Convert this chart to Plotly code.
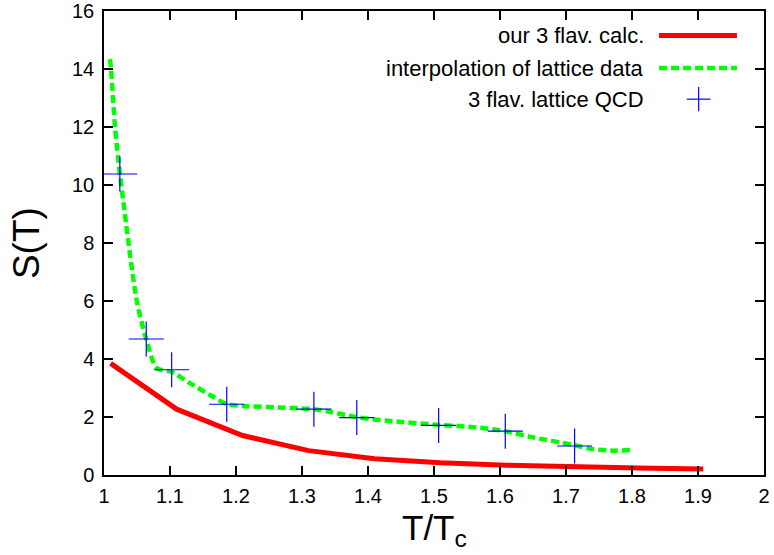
import plotly.graph_objects as go

# ---- data ----
calc_x = [1.01, 1.11, 1.21, 1.31, 1.41, 1.51, 1.61, 1.71, 1.81, 1.908]
calc_y = [3.85, 2.27, 1.36, 0.84, 0.56, 0.42, 0.34, 0.28, 0.24, 0.21]

interp_x = [1.009, 1.0106, 1.0167, 1.024, 1.029, 1.0495, 1.064, 1.08, 1.1025, 1.13,
            1.165, 1.185, 1.21, 1.262, 1.318, 1.342, 1.383, 1.43, 1.507, 1.57,
            1.608, 1.645, 1.712, 1.741, 1.772, 1.797]
interp_y = [14.34, 14.0, 12.0, 10.4, 9.48, 6.03, 4.69, 3.69, 3.55, 3.17,
            2.70, 2.45, 2.38, 2.33, 2.27, 2.18, 1.99, 1.87, 1.73, 1.63,
            1.51, 1.32, 1.03, 0.89, 0.84, 0.86]

lat_x = [1.024, 1.064, 1.1025, 1.186, 1.318, 1.383, 1.507, 1.608, 1.713]
lat_y = [10.38, 4.69, 3.63, 2.44, 2.27, 1.98, 1.71, 1.51, 1.00]

x_ticks = [1.0, 1.1, 1.2, 1.3, 1.4, 1.5, 1.6, 1.7, 1.8, 1.9, 2.0]
x_labels = ["1", "1.1", "1.2", "1.3", "1.4", "1.5", "1.6", "1.7", "1.8", "1.9", "2"]
y_ticks = [0, 2, 4, 6, 8, 10, 12, 14, 16]

legend_names = ["our 3 flav. calc.", "interpolation of lattice data", "3 flav. lattice QCD"]
x_title = "T/T<sub>c</sub>"
y_title = "S(T)"

RED = "#ff0000"
GREEN = "#00ff00"
BLUE = "#0000ff"
FONT = "Liberation Sans, Arial, sans-serif"

fig = go.Figure()
fig.add_trace(go.Scatter(x=calc_x, y=calc_y, mode="lines",
                         line=dict(color=RED, width=5), showlegend=False))
fig.add_trace(go.Scatter(x=interp_x, y=interp_y, mode="lines",
                         line=dict(color=GREEN, width=4.5, dash="8px,4px", shape="spline", smoothing=0.8),
                         showlegend=False))
fig.add_trace(go.Scatter(x=lat_x, y=lat_y, mode="markers",
                         marker=dict(symbol="cross-thin", size=25, line=dict(color=BLUE, width=1.2)),
                         showlegend=False))

# ---- custom legend (text left of sample, gnuplot style) ----
row_y = [0.947, 0.877, 0.810]
text_x = 0.821
for name, yy in zip(legend_names, row_y):
    fig.add_annotation(x=text_x, y=yy, xref="paper", yref="paper", text=name,
                       showarrow=False, xanchor="right", yanchor="middle",
                       font=dict(family=FONT, size=22, color="black"))
fig.add_shape(type="line", xref="paper", yref="paper", x0=0.841, x1=0.959,
              y0=row_y[0], y1=row_y[0], line=dict(color=RED, width=5))
fig.add_shape(type="line", xref="paper", yref="paper", x0=0.841, x1=0.959,
              y0=row_y[1], y1=row_y[1], line=dict(color=GREEN, width=4.5, dash="8px,4px"))
fig.add_shape(type="line", xref="paper", yref="paper", x0=0.883, x1=0.919,
              y0=row_y[2], y1=row_y[2], line=dict(color=BLUE, width=1.2))
fig.add_shape(type="line", xref="paper", yref="paper", x0=0.901, x1=0.901,
              y0=row_y[2] - 0.026, y1=row_y[2] + 0.026, line=dict(color=BLUE, width=1.2))

# axis titles as annotations for exact placement
fig.add_annotation(x=0.5, y=-0.171, xref="paper", yref="paper", text=x_title,
                   showarrow=False, xanchor="center", yanchor="bottom",
                   font=dict(family=FONT, size=35, color="black"))
fig.add_annotation(x=-0.118, y=0.5, xref="paper", yref="paper", text=y_title,
                   showarrow=False, xanchor="center", yanchor="middle", textangle=-90,
                   font=dict(family=FONT, size=37, color="black"))

fig.update_layout(
    width=774, height=555,
    margin=dict(l=104, r=10, t=11, b=80, autoexpand=False),
    paper_bgcolor="white", plot_bgcolor="white",
    font=dict(family=FONT, size=20, color="black"),
    showlegend=False,
)
fig.update_xaxes(range=[1, 2], tickvals=x_ticks, ticktext=x_labels,
                 ticks="inside", ticklen=9, tickwidth=1.5, tickcolor="black",
                 showline=True, linecolor="black", linewidth=1.5, mirror="ticks",
                 showgrid=False, zeroline=False, automargin=False,
                 tickfont=dict(size=20), ticklabelstandoff=2)
fig.update_yaxes(range=[0, 16], tickvals=y_ticks,
                 ticks="inside", ticklen=9, tickwidth=1.5, tickcolor="black",
                 showline=True, linecolor="black", linewidth=1.5, mirror="ticks",
                 showgrid=False, zeroline=False, automargin=False,
                 tickfont=dict(size=20), ticklabelstandoff=4)

fig.write_html("out.html")
